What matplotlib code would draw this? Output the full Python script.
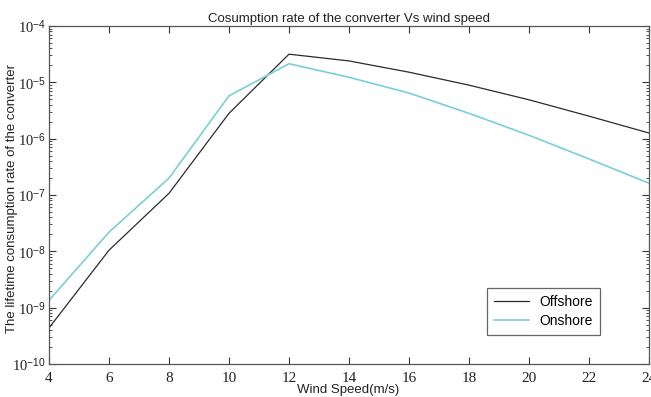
import matplotlib
matplotlib.use("Agg")
import matplotlib.pyplot as plt
import numpy as np
from matplotlib.ticker import FixedLocator, LogLocator, FuncFormatter

plt.rcParams['mathtext.fontset'] = 'custom'
plt.rcParams['mathtext.rm'] = 'Liberation Serif'
plt.rcParams['mathtext.it'] = 'Liberation Serif:italic'
plt.rcParams['mathtext.sf'] = 'Liberation Sans'

wind_speed = [4, 6, 8, 10, 12, 14, 16, 18, 20, 22, 24]
offshore_log = [-9.36, -7.98, -6.97, -5.55, -4.50, -4.62, -4.82, -5.05, -5.31, -5.60, -5.90]
onshore_log = [-8.87, -7.66, -6.70, -5.24, -4.67, -4.91, -5.19, -5.55, -5.94, -6.36, -6.79]
offshore = [10 ** v for v in offshore_log]
onshore = [10 ** v for v in onshore_log]
x_ticks = [4, 6, 8, 10, 12, 14, 16, 18, 20, 22, 24]
y_exps = [-10, -9, -8, -7, -6, -5, -4]

fig = plt.figure(figsize=(6.51, 3.97), dpi=100)
ax = fig.add_axes([49/651, 1 - 364/397, 600/651, 338/397])

ax.plot(wind_speed, offshore, color='#2b2b2b', lw=0.9, label='Offshore')
ax.plot(wind_speed, onshore, color='#78d0d6', lw=1.2, label='Onshore')

ax.set_yscale('log')
ax.set_xlim(4, 24)
ax.set_ylim(1e-10, 1e-4)
ax.xaxis.set_major_locator(FixedLocator(x_ticks))
ax.yaxis.set_major_locator(FixedLocator([10.0 ** e for e in y_exps]))
ax.yaxis.set_minor_locator(LogLocator(base=10, subs=np.arange(2, 10)))
ax.yaxis.set_major_formatter(FuncFormatter(
    lambda v, p: r'$\mathrm{10}^{\mathsf{%d}}$' % int(round(np.log10(v)))))
ax.xaxis.set_major_formatter(FuncFormatter(lambda v, p: '%d' % v))

ax.tick_params(which='both', direction='in', top=True, right=True, colors='#333333', labelcolor='#222222')
ax.tick_params(which='major', length=5, width=0.8, labelsize=11)
ax.tick_params(which='minor', length=2.5, width=0.6)
ax.tick_params(axis='x', pad=6)
ax.tick_params(axis='y', pad=2, labelsize=10.5)
for lab in ax.get_xticklabels():
    lab.set_fontfamily('Liberation Serif')
for s in ax.spines.values():
    s.set_color('#555555')
    s.set_linewidth(0.9)

ax.set_title('Cosumption rate of the converter Vs wind speed', fontsize=9.5,
             fontfamily='Liberation Sans', pad=3, color='#222222')
ax.set_xlabel('Wind Speed(m/s)', fontsize=9.5, fontfamily='Liberation Sans', color='#222222')
ax.xaxis.set_label_coords(348/651, 1 - 384/397, transform=fig.transFigure)
ax.set_ylabel('The lifetime consumption rate of the converter', fontsize=9.5,
              fontfamily='Liberation Sans', color='#222222')
ax.yaxis.set_label_coords(18/651, 0.5, transform=fig.transFigure)

leg = ax.legend(loc='lower right', bbox_to_anchor=(607/651, 1 - 342/397),
                bbox_transform=fig.transFigure, fancybox=False, framealpha=1,
                prop={'family': 'Liberation Sans', 'size': 10}, handlelength=2.5,
                borderpad=0.5, labelspacing=0.4)
leg.get_frame().set_edgecolor('#666666')
leg.get_frame().set_linewidth(0.9)

fig.savefig('out.png', dpi=100)
